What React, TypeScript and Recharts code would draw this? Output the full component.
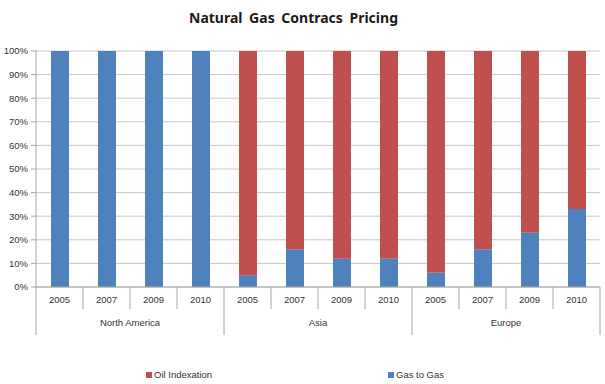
import React from "react";
import { BarChart, Bar, XAxis, YAxis, CartesianGrid, Legend } from "recharts";

const regions = ["North America", "Asia", "Europe"];
const years = ["2005", "2007", "2009", "2010"];
const gasToGas = [100, 100, 100, 100, 5, 16, 12, 12, 6, 16, 23, 33];
const oilIndexation = [0, 0, 0, 0, 95, 84, 88, 88, 94, 84, 77, 67];
const yTicks = [0, 10, 20, 30, 40, 50, 60, 70, 80, 90, 100];

const W = 605;
const H = 384;
const Y_AXIS_W = 36;
const MARGIN = { top: 51, right: 5, left: 0, bottom: 0 };
const AXIS_COLOR = "#a6a6a6";
const TEXT = "#333333";
const FONT = "'Liberation Sans', Arial, sans-serif";

const data = gasToGas.map((g, i) => ({
  key: `${regions[Math.floor(i / years.length)]}-${years[i % years.length]}`,
  year: years[i % years.length],
  region: regions[Math.floor(i / years.length)],
  gas: g,
  oil: oilIndexation[i],
}));

const band = (W - MARGIN.left - MARGIN.right - Y_AXIS_W) / data.length;

const YearTick = ({ x, y, index }: any) => {
  const d = data[index];
  const pos = index % years.length;
  const left = x - band / 2;
  const groupStart = pos === 0;
  const isLast = index === data.length - 1;
  return (
    <g>
      <line x1={left} x2={left} y1={y} y2={y + (groupStart ? 48 : 22)} stroke={AXIS_COLOR} />
      {isLast && <line x1={x + band / 2} x2={x + band / 2} y1={y} y2={y + 48} stroke={AXIS_COLOR} />}
      <text x={x} y={y + 16} textAnchor="middle" fill={TEXT} fontSize={9.5} fontFamily={FONT}>
        {d.year}
      </text>
      {groupStart && (
        <text
          x={left + (band * years.length) / 2}
          y={y + 39}
          textAnchor="middle"
          fill={TEXT}
          fontSize={9.5}
          fontFamily={FONT}
        >
          {d.region}
        </text>
      )}
    </g>
  );
};

const LegendContent = () => (
  <div style={{ position: "relative", width: W, height: 49, fontFamily: FONT, fontSize: 9.5, color: TEXT }}>
    <div style={{ position: "absolute", left: 146, top: 34, display: "flex", alignItems: "center" }}>
      <span style={{ width: 6, height: 6, background: "#C0504D", marginRight: 2 }} />
      <span>Oil Indexation</span>
    </div>
    <div style={{ position: "absolute", left: 388, top: 34, display: "flex", alignItems: "center" }}>
      <span style={{ width: 6, height: 6, background: "#4F81BD", marginRight: 2 }} />
      <span>Gas to Gas</span>
    </div>
  </div>
);

export default function App() {
  return (
    <div style={{ position: "absolute", left: 0, top: 0, width: W, height: H, background: "#fff" }}>
      <div
        style={{
          position: "absolute",
          top: 8,
          left: 0,
          width: W - 18,
          textAlign: "center",
          fontFamily: "'Noto Sans', sans-serif",
          fontWeight: 700,
          fontSize: 14,
          wordSpacing: 3,
          color: "#1a1a1a",
          zIndex: 1,
        }}
      >
        Natural Gas Contracs Pricing
      </div>
      <BarChart width={W} height={H} data={data} margin={MARGIN} barSize={18}>
        <CartesianGrid vertical={false} stroke="#c8c8c8" />
        <XAxis
          dataKey="key"
          interval={0}
          tick={<YearTick />}
          tickLine={false}
          tickSize={0}
          tickMargin={0}
          height={48}
          stroke={AXIS_COLOR}
        />
        <YAxis
          domain={[0, 100]}
          ticks={yTicks}
          width={Y_AXIS_W}
          tickFormatter={(v) => `${v}%`}
          tick={{ fill: TEXT, fontSize: 9.5, fontFamily: FONT }}
          tickSize={5}
          tickMargin={3}
          stroke={AXIS_COLOR}
        />
        <Legend verticalAlign="bottom" content={<LegendContent />} wrapperStyle={{ left: 0 }} />
        <Bar dataKey="gas" name="Gas to Gas" stackId="a" fill="#4F81BD" isAnimationActive={false} />
        <Bar dataKey="oil" name="Oil Indexation" stackId="a" fill="#C0504D" isAnimationActive={false} />
      </BarChart>
    </div>
  );
}
